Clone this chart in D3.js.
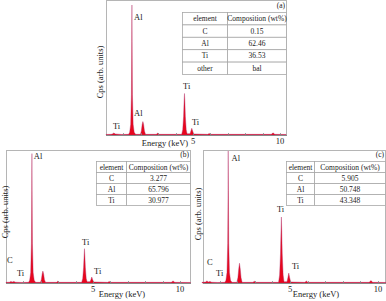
<!DOCTYPE html>
<html>
<head>
<meta charset="utf-8">
<script src="https://cdn.jsdelivr.net/npm/d3@7"></script>
<style>
  body { margin: 0; background: #fff; }
  svg text { font-family: "Liberation Serif", "DejaVu Serif", serif; fill: #222; }
</style>
</head>
<body>
<script>
// spectra: [energy keV, counts in % of panel height]
const specA = [
  [0,0.4],[0.3,0.5],[0.4,1],[0.46,1.6],[0.52,0.8],[0.9,0.4],[1.3,0.5],
  [1.36,2],[1.42,8],[1.46,30],[1.48,70],[1.49,97],[1.5,70],[1.52,30],[1.56,8],[1.62,2],[1.7,0.5],
  [1.98,0.5],[2.03,3],[2.08,8],[2.12,10],[2.16,8],[2.21,3],[2.27,0.5],
  [2.9,0.5],[2.97,1.5],[3.05,0.5],
  [4.35,0.5],[4.41,4],[4.46,14],[4.49,26],[4.51,31],[4.53,26],[4.56,14],[4.61,4],[4.66,1],
  [4.83,1],[4.88,3],[4.93,5],[4.98,3],[5.04,0.8],
  [5.85,0.5],[5.93,1.2],[6.01,0.5],
  [9.5,0.5],[9.6,1.6],[9.7,0.5],[10.35,0.4]
];
const specB = [
  [0,0.5],[0.2,0.6],[0.28,1.2],[0.36,0.7],[0.45,1.2],[0.55,0.6],[0.9,0.4],[1.3,0.5],
  [1.36,2],[1.42,8],[1.46,30],[1.48,70],[1.49,98],[1.5,70],[1.52,30],[1.56,8],[1.62,2],[1.7,0.5],
  [1.98,0.5],[2.03,2.5],[2.08,7],[2.12,9],[2.16,7],[2.21,2.5],[2.27,0.5],
  [2.9,0.5],[2.97,1.3],[3.05,0.5],
  [4.35,0.5],[4.41,3.5],[4.46,12],[4.49,21],[4.51,26],[4.53,21],[4.56,12],[4.61,3.5],[4.66,1],
  [4.83,1],[4.88,2.5],[4.93,4.5],[4.98,2.5],[5.04,0.8],
  [5.85,0.5],[5.93,1.1],[6.01,0.5],
  [9.5,0.5],[9.6,1.6],[9.7,0.5],[10.6,0.4]
];
const specC = [
  [0,0.5],[0.2,0.7],[0.28,1.6],[0.36,0.8],[0.45,1.2],[0.55,0.6],[0.9,0.4],[1.3,0.5],
  [1.36,2],[1.42,8],[1.46,30],[1.48,70],[1.49,100],[1.5,70],[1.52,30],[1.56,8],[1.62,2],[1.7,0.5],
  [1.98,0.5],[2.04,4],[2.09,11],[2.13,15],[2.17,11],[2.22,4],[2.28,0.5],
  [2.9,0.5],[2.97,1.3],[3.05,0.5],
  [4.35,0.5],[4.41,6],[4.46,22],[4.49,40],[4.51,50],[4.53,40],[4.56,22],[4.61,6],[4.66,1],
  [4.83,1],[4.88,4],[4.93,7.5],[4.98,4],[5.04,0.8],
  [5.85,0.5],[5.93,1.5],[6.01,0.5],
  [9.5,0.5],[9.6,1.8],[9.7,0.5],[10.45,0.4]
];

// peak labels: [text, energy keV, counts]
const labelsA = [["Al",1.61,86],["Al",1.61,14],["Ti",4.43,34],["Ti",4.94,7.4],["Ti",0.4,4.4]];
const labelsB = [["Al",1.6,94],["Ti",4.37,28.6],["Ti",5.06,6.8],["C",0.06,15],["Ti",0.63,5.3]];
const labelsC = [["Al",1.68,92.5],["Ti",4.26,54],["Ti",5.11,10.5],["C",0.28,13.5],["Ti",0.8,5.3]];

// composition tables
const tableHead = ["element", "Composition (wt%)"];
const elemA = ["C", "Al", "Ti", "other"];
const compA = ["0.15", "62.46", "36.53", "bal"];
const elemB = ["C", "Al", "Ti"];
const compB = ["3.277", "65.796", "30.977"];
const elemC = ["C", "Al", "Ti"];
const compC = ["5.905", "50.748", "43.348"];

const minorTicks = [1,2,3,4,5,6,7,8,9,10];
const tickLabels = [5, 10];

const W = 386, H = 301;
const svg = d3.select("body").append("svg").attr("width", W).attr("height", H);

// layout of each panel
const panels = [
  {tag:"(a)", spec:specA, labels:labelsA, elem:elemA, comp:compA,
   left:106, right:286, top:0, bottom:135, x0:106, x10:280,
   tab:{x:182, mid:227, y:12, rh:12.4}, tickY:144, xLab:{x:165, y:146}, yLab:{x:103, y:72}},
  {tag:"(b)", spec:specB, labels:labelsB, elem:elemB, comp:compB,
   left:6, right:190, top:150, bottom:283, x0:6, x10:180,
   tab:{x:96, mid:126, y:161, rh:11}, tickY:292, xLab:{x:122, y:297}, yLab:{x:7.5, y:212}},
  {tag:"(c)", spec:specC, labels:labelsC, elem:elemC, comp:compC,
   left:203, right:385, top:150, bottom:283, x0:202, x10:378,
   tab:{x:286, mid:314, y:161, rh:11}, tickY:292, xLab:{x:316, y:297}, yLab:{x:201, y:214}}
];

panels.forEach(function(p){
  const x = d3.scaleLinear().domain([0, 10]).range([p.x0, p.x10]);
  const y = d3.scaleLinear().domain([0, 100]).range([p.bottom, p.top + 1]);
  const g = svg.append("g");

  //frame
  g.append("rect")
    .attr("x", p.left + 0.5).attr("y", p.top + 0.5)
    .attr("width", p.right - p.left).attr("height", p.bottom - p.top)
    .attr("fill", "none").attr("stroke", "#b5b5b5").attr("stroke-width", 1);

  //spectrum
  const area = d3.area()
    .x(d => x(d[0]))
    .y0(p.bottom)
    .y1(d => y(d[1]));
  g.append("path")
    .datum(p.spec)
    .attr("d", area)
    .attr("fill", "#e8061c")
    .attr("stroke", "#b0306a")
    .attr("stroke-width", 0.4);

  //bottom axis
  g.append("line")
    .attr("x1", p.left).attr("x2", p.right + 1)
    .attr("y1", p.bottom + 0.5).attr("y2", p.bottom + 0.5)
    .attr("stroke", "#888").attr("stroke-width", 1);
  g.selectAll(".mt").data(minorTicks).enter().append("line")
    .attr("x1", d => Math.round(x(d)) + 0.5).attr("x2", d => Math.round(x(d)) + 0.5)
    .attr("y1", p.bottom).attr("y2", p.bottom - 2)
    .attr("stroke", "#888").attr("stroke-width", 0.8);
  g.selectAll(".tl").data(tickLabels).enter().append("text")
    .attr("x", d => x(d)).attr("y", p.tickY)
    .attr("text-anchor", "middle")
    .style("font-size", "8.5px")
    .text(d => d);
  g.append("text")
    .attr("x", p.xLab.x).attr("y", p.xLab.y)
    .attr("text-anchor", "middle")
    .style("font-size", "8.5px")
    .text("Energy (keV)");
  g.append("text")
    .attr("transform", "translate(" + p.yLab.x + "," + p.yLab.y + ") rotate(-90)")
    .attr("text-anchor", "middle")
    .style("font-size", "8.5px")
    .text("Cps (arb. units)");

  //peak labels
  g.selectAll(".pl").data(p.labels).enter().append("text")
    .attr("x", d => x(d[1])).attr("y", d => y(d[2]))
    .style("font-size", "8.5px")
    .text(d => d[0]);

  //composition table
  const t = p.tab;
  const rows = [tableHead].concat(p.elem.map((e, i) => [e, p.comp[i]]));
  const tr = p.right;
  g.append("text")
    .attr("x", tr - 1).attr("y", t.y - 4)
    .attr("text-anchor", "end")
    .style("font-size", "7.5px")
    .text(p.tag);
  rows.forEach(function(r, i){
    const ry = t.y + i * t.rh;
    g.append("rect")
      .attr("x", t.x + 0.5).attr("y", ry + 0.5)
      .attr("width", t.mid - t.x).attr("height", t.rh)
      .attr("fill", "#fff").attr("stroke", "#a8a8a8").attr("stroke-width", 0.8);
    g.append("rect")
      .attr("x", t.mid + 0.5).attr("y", ry + 0.5)
      .attr("width", tr - t.mid).attr("height", t.rh)
      .attr("fill", "#fff").attr("stroke", "#a8a8a8").attr("stroke-width", 0.8);
    g.append("text")
      .attr("x", (t.x + t.mid) / 2 + 0.5).attr("y", ry + t.rh / 2 + 3)
      .attr("text-anchor", "middle")
      .style("font-size", "7.5px")
      .text(r[0]);
    g.append("text")
      .attr("x", (t.mid + tr) / 2 + 0.5).attr("y", ry + t.rh / 2 + 3)
      .attr("text-anchor", "middle")
      .style("font-size", "7.5px")
      .text(r[1]);
  });
});
</script>
</body>
</html>
